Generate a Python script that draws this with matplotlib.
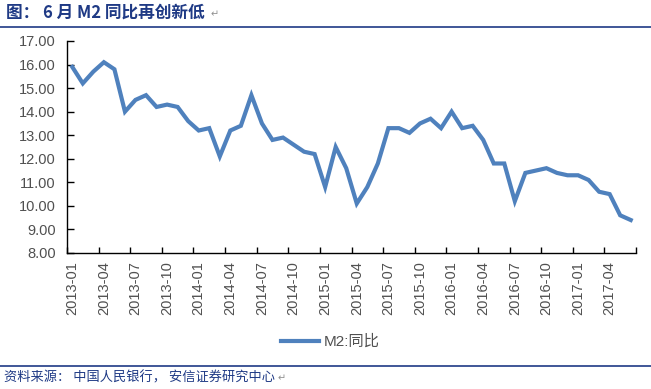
import matplotlib
matplotlib.use('Agg')
import matplotlib.pyplot as plt
from matplotlib.lines import Line2D

plt.rcParams['font.family'] = ['Liberation Sans', 'Noto Sans CJK SC', 'DejaVu Sans']

# 月度 M2 同比 (%)
meses = [f"{a}-{m:02d}" for a in range(2013, 2018) for m in range(1, 13)][:54]
m2 = [15.9, 15.2, 15.7, 16.1, 15.8, 14.0, 14.5, 14.7, 14.2, 14.3, 14.2, 13.6,
      13.2, 13.3, 12.1, 13.2, 13.4, 14.7, 13.5, 12.8, 12.9, 12.6, 12.3, 12.2,
      10.8, 12.5, 11.6, 10.1, 10.8, 11.8, 13.3, 13.3, 13.1, 13.5, 13.7, 13.3,
      14.0, 13.3, 13.4, 12.8, 11.8, 11.8, 10.2, 11.4, 11.5, 11.6, 11.4, 11.3,
      11.3, 11.1, 10.6, 10.5, 9.6, 9.4]
yticks = [8, 9, 10, 11, 12, 13, 14, 15, 16, 17]

azul = "#4F81BD"
marino = "#1F3A85"
gris = "#505050"
cjk = ['Noto Sans CJK SC', 'DejaVu Sans']

fig = plt.figure(figsize=(6.51, 3.89), dpi=100)
ax = fig.add_axes([67 / 651, 1 - 253 / 389, 569 / 651, 212 / 389])

x = list(range(len(m2)))
ax.plot(x, m2, color=azul, lw=3.0, solid_joinstyle='miter')

ax.set_xlim(-0.5, len(m2) - 0.5)
ax.set_ylim(8, 17)
ax.set_yticks(yticks)
ax.set_yticklabels([f"{v:.2f}" for v in yticks], fontsize=10.5, color=gris)
ax.set_xticks(x[::3])
ax.set_xticklabels(meses[::3], rotation=90, fontsize=10.5, color=gris)
ax.set_xticks([i - 0.5 for i in range(0, len(m2) + 1, 3)], minor=True)
ax.tick_params(axis='x', which='major', length=0, pad=6)
ax.tick_params(axis='x', which='minor', direction='in', length=4, width=1)
ax.tick_params(axis='y', direction='in', length=5, width=1, pad=8)
for s in ['top', 'right']:
    ax.spines[s].set_visible(False)
for s in ['left', 'bottom']:
    ax.spines[s].set_linewidth(1)

leg = fig.legend(handles=[Line2D([], [], color=azul, lw=3.0)], labels=["M2:同比"],
                 loc='center', bbox_to_anchor=(330 / 651, 1 - 342 / 389),
                 frameon=False, fontsize=11, handlelength=2.5, handletextpad=0.3)
for t in leg.get_texts():
    t.set_color(gris)

# 标题与来源
fig.text(6 / 651, 1 - 13 / 389, "图： 6 月 M2 同比再创新低", fontsize=12, fontweight='bold',
         color=marino, va='center', family=cjk)
fig.text(211 / 651, 1 - 14 / 389, "↵", fontsize=7, color="#909090", va='center', family=cjk)
fig.add_artist(Line2D([0, 1], [1 - 27 / 389, 1 - 27 / 389], color=marino, lw=1.2,
                      transform=fig.transFigure))
fig.add_artist(Line2D([0, 1], [1 - 366 / 389, 1 - 366 / 389], color=marino, lw=1.2,
                      transform=fig.transFigure))
fig.text(4 / 651, 1 - 378 / 389, "资料来源： 中国人民银行， 安信证券研究中心", fontsize=9.5,
         color=marino, va='center', family=cjk)
fig.text(278 / 651, 1 - 378 / 389, "↵", fontsize=7, color="#909090", va='center', family=cjk)

fig.savefig("out.png", dpi=100)
